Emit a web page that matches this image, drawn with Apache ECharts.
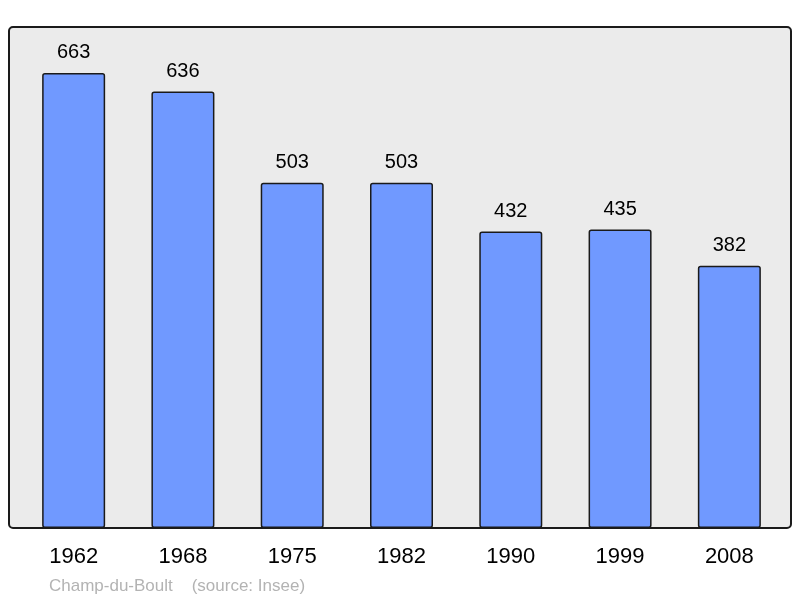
<!DOCTYPE html>
<html>
<head>
<meta charset="utf-8">
<script src="https://cdn.jsdelivr.net/npm/echarts@6/dist/echarts.min.js"></script>
<style>
  html, body { margin: 0; padding: 0; background: #fff; }
  #chart { width: 800px; height: 598px; }
</style>
</head>
<body>
<div id="chart"></div>
<script>
// population by census year
const years = ['1962', '1968', '1975', '1982', '1990', '1999', '2008'];
const population = [663, 636, 503, 503, 432, 435, 382];

const chart = echarts.init(document.getElementById('chart'));

chart.setOption({
  animation: false,
  title: {
    text: 'Champ-du-Boult    (source: Insee)',
    left: 44,
    top: 573,
    textStyle: {
      color: '#b3b3b3',
      fontSize: 17,
      fontWeight: 'normal',
      fontFamily: 'Liberation Sans'
    }
  },
  // framed background of the plot
  graphic: [{
    type: 'rect',
    z: -1,
    shape: { x: 9, y: 27, width: 782, height: 501, r: 4 },
    style: { fill: '#ebebeb', stroke: '#1a1a1a', lineWidth: 2 }
  }],
  grid: {
    left: 19,
    right: 16,
    top: 27,
    bottom: 70
  },
  xAxis: {
    type: 'category',
    data: years,
    axisLine: { show: false },
    axisTick: { show: false },
    axisLabel: {
      margin: 18,
      color: '#000',
      fontSize: 22,
      fontFamily: 'Liberation Sans'
    }
  },
  yAxis: {
    type: 'value',
    min: 0,
    max: 730,
    show: false,
    splitLine: { show: false }
  },
  series: [{
    type: 'bar',
    data: population,
    barWidth: 63,
    itemStyle: {
      color: '#7099ff',
      borderColor: '#1a1a1a',
      borderWidth: 1.5,
      borderRadius: 2
    },
    label: {
      show: true,
      position: 'top',
      distance: 10,
      color: '#000',
      fontSize: 20,
      fontFamily: 'Liberation Sans'
    }
  }]
});
</script>
</body>
</html>
